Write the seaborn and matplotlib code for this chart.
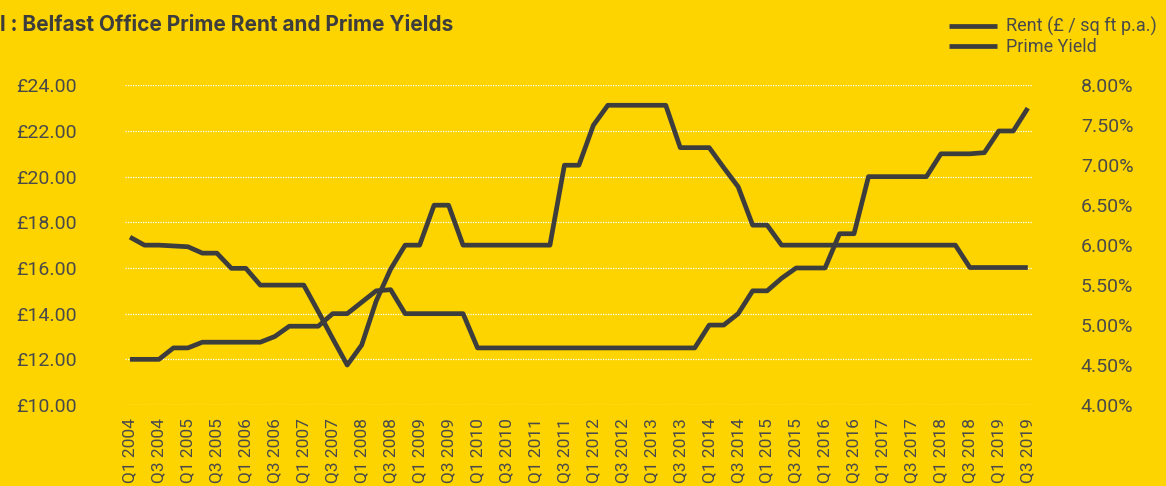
#!/usr/bin/env python3
# -*- coding: utf-8 -*-
"""
Belfast office prime rent / prime yield, quarterly 2004-2019
"""

import pandas as pd
import matplotlib.pyplot as plt
import seaborn as sns
from matplotlib.lines import Line2D
from matplotlib.ticker import FuncFormatter

YELLOW = '#FDD400'
DARK = '#3D3D3D'
TEXT = '#4A4A4A'

# quarters Q1 2004 .. Q3 2019
quarters = [f'Q{q} {y}' for y in range(2004, 2020) for q in (1, 2, 3, 4)][:63]

# rent, £ / sq ft p.a. (left axis)
rent = [12.0, 12.0, 12.0, 12.5, 12.5,
        12.75, 12.75, 12.75, 12.75, 12.75,
        13.0, 13.45, 13.45, 13.45, 14.0, 14.0,
        14.5, 15.0, 15.05,
        14.0, 14.0, 14.0, 14.0, 14.0,
        12.5, 12.5, 12.5, 12.5, 12.5, 12.5, 12.5, 12.5,
        12.5, 12.5, 12.5, 12.5, 12.5, 12.5, 12.5, 12.5,
        13.5, 13.5, 14.0, 15.0, 15.0, 15.55,
        16.0, 16.0, 16.0, 17.5, 17.5,
        20.0, 20.0, 20.0, 20.0, 20.0,
        21.0, 21.0, 21.0, 21.05, 22.0, 22.0, 23.0]

# prime yield, % (right axis)
prime_yield = [6.1, 6.0, 6.0, 5.99, 5.98,
               5.9, 5.9, 5.71, 5.71,
               5.5, 5.5, 5.5, 5.5, 5.17, 4.83, 4.5,
               4.75, 5.3, 5.7, 6.0, 6.0, 6.5, 6.5,
               6.0, 6.0, 6.0, 6.0, 6.0, 6.0, 6.0,
               7.0, 7.0, 7.5, 7.75, 7.75, 7.75, 7.75, 7.75,
               7.22, 7.22, 7.22, 6.97, 6.73, 6.25, 6.25,
               6.0, 6.0, 6.0, 6.0, 6.0, 6.0, 6.0, 6.0, 6.0, 6.0, 6.0, 6.0, 6.0,
               5.72, 5.72, 5.72, 5.72, 5.72]

rent_ticks = [10, 12, 14, 16, 18, 20, 22, 24]
yield_ticks = [4.0, 4.5, 5.0, 5.5, 6.0, 6.5, 7.0, 7.5, 8.0]


def main():
    sns.set_theme(style='white')
    plt.rcParams['font.family'] = ['Roboto', 'DejaVu Sans']
    plt.rcParams['lines.solid_capstyle'] = 'butt'

    df = pd.DataFrame({'quarter': quarters, 'idx': range(len(quarters)),
                       'rent': rent, 'yield': prime_yield})

    W, H = 1166, 486
    fig = plt.figure(figsize=(W / 100, H / 100), dpi=100, facecolor=YELLOW)
    ax = fig.add_axes([125 / W, 1 - 405 / H, (1033 - 125) / W, (405 - 85.3) / H])
    ax.set_facecolor(YELLOW)
    ax2 = ax.twinx()

    sns.lineplot(data=df, x='idx', y='rent', ax=ax, color=DARK, linewidth=3.4, legend=False)
    sns.lineplot(data=df, x='idx', y='yield', ax=ax2, color=DARK, linewidth=3.4, legend=False)

    ax.set_xlim(-0.345, 62.36)
    ax.set_ylim(10, 24)
    ax2.set_ylim(4, 8)

    ax.set_yticks(rent_ticks)
    ax.yaxis.set_major_formatter(FuncFormatter(lambda v, p: f'£{v:.2f}'))
    ax2.set_yticks(yield_ticks)
    ax2.yaxis.set_major_formatter(FuncFormatter(lambda v, p: f'{v:.2f}%'))

    ax.set_xticks(df['idx'][::2])
    ax.set_xticklabels(df['quarter'][::2], rotation=90)

    ax.yaxis.grid(True, color='white', linestyle=(0, (1, 1)), linewidth=0.9)
    ax.xaxis.grid(False)
    ax2.grid(False)

    ax.tick_params(axis='y', length=0, pad=34.5, labelsize=14, labelcolor=TEXT)
    ax2.tick_params(axis='y', length=0, pad=34.5, labelsize=14, labelcolor=TEXT)
    ax.tick_params(axis='x', length=0, pad=9.5, labelsize=12.5, labelcolor=TEXT)

    ax.set_xlabel('')
    ax.set_ylabel('')
    ax2.set_ylabel('')
    for a in (ax, ax2):
        for s in a.spines.values():
            s.set_visible(False)

    # title (cut at the left edge in the original)
    fig.text(0, 1 - 30.7 / H, 'l : Belfast Office Prime Rent and Prime Yields',
             fontsize=15, fontweight='bold', color=DARK, ha='left', va='baseline',
             family=['Inter', 'DejaVu Sans'])

    handles = [Line2D([], [], color=DARK, linewidth=3.4),
               Line2D([], [], color=DARK, linewidth=3.4)]
    fig.legend(handles, ['Rent (£ / sq ft p.a.)', 'Prime Yield'],
               loc='upper left', bbox_to_anchor=(949 / W, 1 - 17 / H),
               frameon=False, fontsize=13, labelcolor=TEXT,
               handlelength=2.66, handletextpad=0.5, labelspacing=0.12,
               borderpad=0, borderaxespad=0)

    fig.savefig('out.png', dpi=100, facecolor=YELLOW)


if __name__ == '__main__':
    main()
